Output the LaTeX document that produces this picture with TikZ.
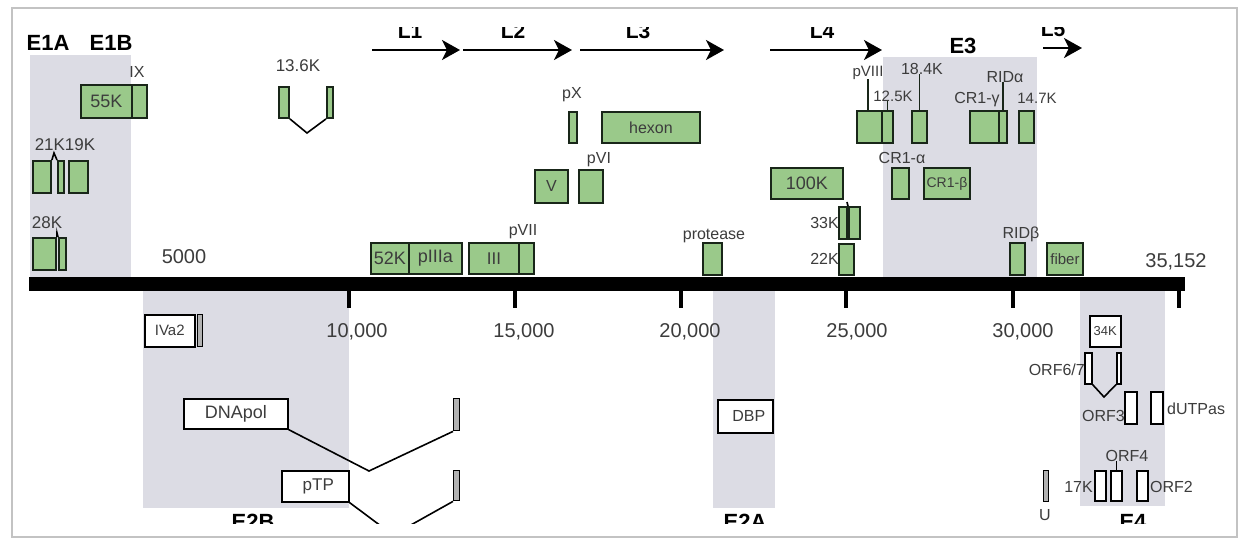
\documentclass[tikz,border=0pt]{standalone}
\usepackage{fontspec}
\setmainfont{Liberation Sans}
\usetikzlibrary{arrows.meta}
\definecolor{gfill}{RGB}{154,201,138}
\definecolor{gline}{RGB}{25,38,25}
\definecolor{shadec}{RGB}{220,220,228}
\definecolor{labc}{RGB}{60,60,60}
\definecolor{framec}{RGB}{195,195,195}
\newcommand\fs[1]{\fontsize{#1}{#1}\selectfont}
\newcommand\bx[7]{\node[#1, anchor=north west, minimum width={(#5-#3)*1pt}, minimum height={(#6-#4)*1pt}] (#2) at (#3,#4) {#7};}
\begin{document}
\begin{tikzpicture}[x=1pt,y=-1pt,
  gbox/.style={draw=gline, fill=gfill, line width=1.9pt, inner sep=0pt, text=labc, font=\fs{16}},
  wbox/.style={draw=black, fill=white, line width=1.6pt, inner sep=0pt, text=labc, font=\fs{16}},
  xbox/.style={draw=black, fill=gray!60, line width=1.4pt, inner sep=0pt},
  lab/.style={inner sep=0pt, text=labc, font=\fs{16}, anchor=base},
  big/.style={inner sep=0pt, font=\bfseries\fs{22}, anchor=base},
  tlab/.style={inner sep=0pt, text=labc, font=\fs{20}, anchor=base},
  lead/.style={line width=1.9pt, draw=gline},
  splice/.style={line width=1.6pt, draw=black},
  larr/.style={line width=2.5pt, -{Stealth[length=18pt,width=20pt,inset=5pt]}},
  region/.style={fill=shadec, draw=none},
  tick/.style={line width=4pt}
]
\useasboundingbox (0,0) rectangle (1243,539);
\fill[white] (0,0) rectangle (1243,539);
\draw[framec, line width=1.5pt] (12,8) rectangle (1237,537);
\begin{scope}
\clip (13,27) rectangle (1236,523);
% shaded transcription regions
\fill[region] (30,55) rectangle (131,277);
\fill[region] (883,57) rectangle (1037,277);
\fill[region] (143,290) rectangle (349,508);
\fill[region] (713,290) rectangle (775,508);
\fill[region] (1080,290) rectangle (1165,506);
% region labels
\node[big] (e1a) at (48,50) {E1A};
\node[big] (e1b) at (111,50) {E1B};
\node[big] (e3) at (963,53) {E3};
\node[big] (e2b) at (253,529) {E2B};
\node[big] (e2a) at (745,529) {E2A};
\node[big] (e4) at (1133,529) {E4};
% late transcription units
\node[big,font=\bfseries\fs{21}] (ll1) at (410,38) {L1};
\node[big,font=\bfseries\fs{21}] (ll2) at (513,38) {L2};
\node[big,font=\bfseries\fs{21}] (ll3) at (638,38) {L3};
\node[big,font=\bfseries\fs{21}] (ll4) at (822,38) {L4};
\node[big,font=\bfseries\fs{21}] (ll5) at (1053,36) {L5};
\coordinate (a1s) at (372,50); \coordinate (a1e) at (460,50);
\coordinate (a2s) at (463,50); \coordinate (a2e) at (572,50);
\coordinate (a3s) at (580,50); \coordinate (a3e) at (724,50);
\coordinate (a4s) at (770,50); \coordinate (a4e) at (882,50);
\coordinate (a5s) at (1043,48); \coordinate (a5e) at (1082,48);
\draw[larr] (a1s) -- (a1e);
\draw[larr] (a2s) -- (a2e);
\draw[larr] (a3s) -- (a3e);
\draw[larr] (a4s) -- (a4e);
\draw[larr] (a5s) -- (a5e);
% genome axis
\fill[black] (29,277) rectangle (1185,291);
\foreach \x in {349,515,681,846,1013,1179} \draw[tick] (\x,290) -- (\x,308);
\node[tlab] (t5) at (184,263) {5000};
\node[tlab] (t10) at (357,337) {10,000};
\node[tlab] (t15) at (524,337) {15,000};
\node[tlab] (t20) at (690,337) {20,000};
\node[tlab] (t25) at (857,337) {25,000};
\node[tlab] (t30) at (1023,337) {30,000};
\node[tlab] (tend) at (1176,267) {35,152};
% top strand genes
\bx{gbox,font=\fs{18}}{k55}{80}{84}{131}{117}{55K}
\bx{gbox}{ix}{131}{84}{146}{117}{}
\bx{gbox}{k136a}{278}{86}{288}{117}{}
\bx{gbox}{k136b}{326}{86}{332}{117}{}
\bx{gbox}{k21}{32}{160}{50}{192}{}
\bx{gbox}{k21s}{57}{160}{63}{192}{}
\bx{gbox}{k19}{68}{160}{87}{192}{}
\bx{gbox}{k28}{32}{237}{55}{269}{}
\bx{gbox}{k28s}{58}{237}{65}{269}{}
\bx{gbox,font=\fs{18}}{k52}{370}{242}{408}{273}{52K}
\bx{gbox,font=\fs{18}}{p3a}{408}{242}{461}{273}{pIIIa}
\bx{gbox,font=\fs{17}}{p3}{468}{242}{518}{273}{III}
\bx{gbox}{p7}{518}{242}{533}{273}{}
\bx{gbox}{pv}{534}{169}{567}{202}{V}
\bx{gbox}{p6}{578}{169}{602}{202}{}
\bx{gbox}{px}{568}{111}{576}{142}{}
\bx{gbox}{hexon}{601}{111}{699}{142}{hexon}
\bx{gbox}{prot}{702}{242}{721}{274}{}
\bx{gbox,font=\fs{18}}{k100}{770}{167}{842}{198}{100K}
\bx{gbox}{k33a}{838}{206}{846}{238}{}
\bx{gbox}{k33b}{848}{206}{859}{238}{}
\bx{gbox}{k22}{838}{243}{853}{274}{}
\bx{gbox}{p8}{856}{110}{881}{142}{}
\bx{gbox}{k125}{881}{110}{892}{142}{}
\bx{gbox}{k184}{911}{110}{926}{142}{}
\bx{gbox}{cr1g}{969}{110}{998}{142}{}
\bx{gbox}{rida}{998}{110}{1006}{142}{}
\bx{gbox}{k147}{1018}{110}{1033}{142}{}
\bx{gbox}{cr1a}{891}{167}{908}{198}{}
\bx{gbox,font=\fs{14}}{cr1b}{923}{167}{969}{198}{CR1-β}
\bx{gbox}{ridb}{1009}{242}{1024}{274}{}
\bx{gbox,font=\fs{15}}{fiber}{1046}{242}{1082}{274}{fiber}
% top labels
\node[lab] (lix) at (137,77) {IX};
\node[lab,font=\fs{17}] (l136) at (298,71) {13.6K};
\node[lab,font=\fs{17}] (l2119) at (65,150) {21K19K};
\node[lab,font=\fs{17}] (l28) at (47,228) {28K};
\node[lab] (lpx) at (572,98) {pX};
\node[lab] (lp6) at (599,163) {pVI};
\node[lab] (lp7) at (523,235) {pVII};
\node[lab] (lprot) at (714,239) {protease};
\node[lab,font=\fs{15}] (lp8) at (868,76) {pVIII};
\node[lab] (l184) at (922,74) {18.4K};
\node[lab,font=\fs{15}] (l125) at (893,101) {12.5K};
\node[lab] (lrida) at (1005,82) {RIDα};
\node[lab] (lcr1g) at (977,103) {CR1-γ};
\node[lab,font=\fs{15}] (l147) at (1037,103) {14.7K};
\node[lab] (lcr1a) at (902,163) {CR1-α};
\node[lab,anchor=base east] (l33) at (839,228) {33K};
\node[lab,anchor=base east] (l22) at (839,264) {22K};
\node[lab] (lridb) at (1021,238) {RIDβ};
% leader lines
\draw[lead] (lp8.south) -- (lp8.south |- p8.north);
\draw[lead] (k125.north |- l125.south) -- (k125.north);
\draw[lead] (k184.north |- l184.south) -- (k184.north);
\draw[lead] (rida.north |- lrida.south) -- (rida.north);
% top splices
\coordinate (k136v) at (307,133);
\draw[splice] (k136a.south east) -- (k136v) -- (k136b.south west);
\coordinate (k21v) at (54,153);
\draw[splice] (k21.north east) -- (k21v) -- (k21s.north west);
\coordinate (k28v) at (57,233);
\draw[splice] (k28.north east) -- (k28v) -- (k28s.north west);
\coordinate (k33v) at (847,202);
\draw[splice] (k33a.north east) -- (k33v) -- (k33b.north west);
% bottom strand genes
\bx{wbox,font=\fs{15}}{iva2}{144}{314}{194}{346}{IVa2}
\bx{xbox}{iva2s}{197}{314}{202}{346}{}
\bx{wbox,font=\fs{18}}{dnapol}{183}{398}{287}{428}{DNApol}
\bx{xbox}{dnapols}{453}{398}{459}{430}{}
\bx{wbox,font=\fs{17}}{ptp}{281}{470}{348}{501}{\hspace*{6pt}pTP}
\bx{xbox}{ptps}{453}{470}{459}{500}{}
\bx{wbox}{dbp}{717}{399}{772}{432}{\hspace*{7pt}DBP}
\bx{wbox,font=\fs{13}}{k34}{1089}{315}{1120}{346}{34K}
\bx{wbox}{orf67a}{1084}{352}{1091}{383}{}
\bx{wbox}{orf67b}{1116}{352}{1120}{383}{}
\bx{wbox}{orf3}{1124}{391}{1136}{423}{}
\bx{wbox}{dutp}{1150}{391}{1162}{423}{}
\bx{xbox}{u}{1043}{470}{1048}{501}{}
\bx{wbox}{k17}{1094}{470}{1105}{500}{}
\bx{wbox}{orf4}{1110}{470}{1121}{500}{}
\bx{wbox}{orf2}{1136}{470}{1147}{500}{}
% bottom labels
\node[lab,anchor=base east] (lorf67) at (1085,375) {ORF6/7};
\node[lab,anchor=base east] (lorf3) at (1125,421) {ORF3};
\node[lab,anchor=base west] (ldutp) at (1167,414) {dUTPas};
\node[lab] (lorf4) at (1127,461) {ORF4};
\node[lab,anchor=base east] (l17) at (1093,492) {17K};
\node[lab,anchor=base west] (lorf2) at (1150,492) {ORF2};
\node[lab] (lu) at (1045,520) {U};
\draw[splice] (orf4.north |- lorf4.south) -- (orf4.north);
% bottom splices
\coordinate (dnav) at (369,471);
\draw[splice] (dnapol.south east) -- (dnav) -- (dnapols.south west);
\coordinate (ptpv) at (393,535);
\draw[splice] (ptp.south east) -- (ptpv) -- (ptps.south west);
\coordinate (orf67v) at (1104,397);
\draw[splice] (orf67a.south east) -- (orf67v) -- (orf67b.south west);
\end{scope}
\end{tikzpicture}
\end{document}
